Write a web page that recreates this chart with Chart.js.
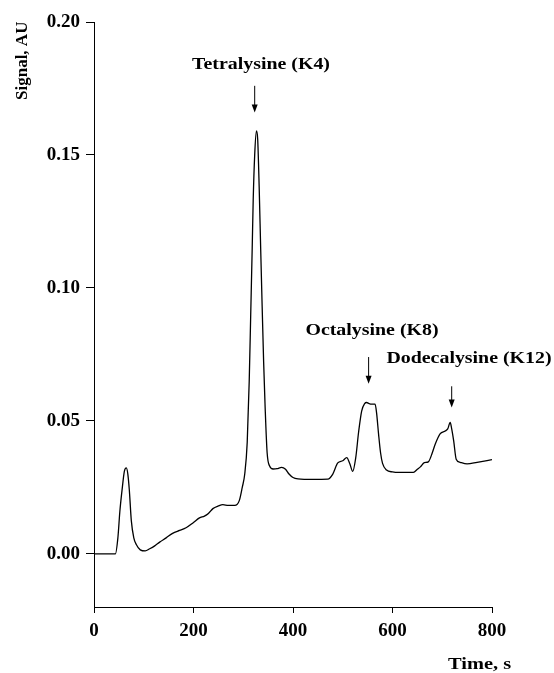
<!DOCTYPE html>
<html>
<head>
<meta charset="utf-8">
<script src="https://cdn.jsdelivr.net/npm/chart.js@4/dist/chart.umd.min.js"></script>
<style>
  html, body { margin: 0; padding: 0; background: #fff; }
  canvas { display: block; }
</style>
</head>
<body>
<canvas id="chart" width="554" height="673"></canvas>
<script>
// Electropherogram trace (time in s, signal in AU)
const times = [0, 43, 48, 52, 57, 61, 65, 68, 71, 75, 80, 85, 93, 103, 112, 122, 132, 145, 158, 172, 185, 200, 212, 222, 230, 239, 250, 259, 270, 283, 292, 298, 303, 308, 312, 315, 318, 320, 323, 326.5, 329, 332, 335, 338, 341, 344, 348, 353, 360, 368, 377, 385, 392, 400, 410, 440, 470, 480, 490, 500, 508, 514, 520, 526, 532, 538, 544, 548, 553, 558, 565, 568, 572, 576, 580, 588, 600, 612, 642, 650, 656, 664, 672, 680, 686, 696, 706, 711, 716, 719, 723, 728, 736, 750, 770, 800];
const signal = [0, 0, 0.006, 0.016, 0.025, 0.031, 0.0323, 0.030, 0.024, 0.0125, 0.006, 0.0035, 0.0015, 0.0011, 0.0019, 0.003, 0.0044, 0.006, 0.0077, 0.0088, 0.0098, 0.0118, 0.0135, 0.0142, 0.0152, 0.0170, 0.0180, 0.0185, 0.0182, 0.0182, 0.020, 0.025, 0.030, 0.042, 0.065, 0.090, 0.115, 0.133, 0.150, 0.159, 0.156, 0.138, 0.115, 0.093, 0.072, 0.055, 0.038, 0.033, 0.0319, 0.032, 0.0325, 0.0318, 0.0300, 0.0287, 0.0282, 0.0280, 0.0281, 0.0300, 0.0342, 0.0350, 0.0362, 0.034, 0.031, 0.036, 0.046, 0.0537, 0.0565, 0.0569, 0.0565, 0.0563, 0.0563, 0.053, 0.045, 0.038, 0.034, 0.0315, 0.0308, 0.0306, 0.0306, 0.0318, 0.0327, 0.0343, 0.0346, 0.038, 0.0413, 0.0452, 0.0462, 0.047, 0.0494, 0.047, 0.0425, 0.0356, 0.0344, 0.0338, 0.0344, 0.0354];

const xTicks = [0, 200, 400, 600, 800];
const yTicks = [0.00, 0.05, 0.10, 0.15, 0.20];

// peak labels: text, x (s) where the arrow points, arrow top/bottom (AU)
const peakNames = ['Tetralysine (K4)', 'Octalysine (K8)', 'Dodecalysine (K12)'];
const peakTimes = [323, 552, 719];
const arrowTops = [0.176, 0.074, 0.063];
const arrowTips = [0.166, 0.064, 0.055];

const FONT = "'Liberation Serif', 'DejaVu Serif', serif";

// the scanned figure's type is a bit wider than Liberation Serif
function wideText(ctx, text, x, y, align, stretch) {
    ctx.save();
    ctx.translate(x, y);
    ctx.scale(stretch, 1);
    ctx.textAlign = align;
    ctx.fillText(text, 0, 0);
    ctx.restore();
}

const textPlugin = {
    id: 'textPlugin',
    afterDraw(chart) {
        const ctx = chart.ctx;
        const xs = chart.scales.x;
        const ys = chart.scales.y;
        ctx.save();
        ctx.fillStyle = '#000';
        ctx.strokeStyle = '#000';
        ctx.font = 'bold 17px ' + FONT;
        ctx.textBaseline = 'alphabetic';

        // peak annotations
        const textPos = [[261, 69], [372, 335], [469, 363]];
        peakNames.forEach((name, i) => {
            wideText(ctx, name, textPos[i][0], textPos[i][1], 'center', 1.17);

            const px = xs.getPixelForValue(peakTimes[i]);
            const y1 = ys.getPixelForValue(arrowTops[i]);
            const y2 = ys.getPixelForValue(arrowTips[i]);
            ctx.lineWidth = 1;
            ctx.beginPath();
            ctx.moveTo(px, y1);
            ctx.lineTo(px, y2 - 6);
            ctx.stroke();
            ctx.beginPath();
            ctx.moveTo(px - 3, y2 - 8);
            ctx.lineTo(px + 3, y2 - 8);
            ctx.lineTo(px, y2);
            ctx.closePath();
            ctx.fill();
        });

        // axis titles
        wideText(ctx, 'Time, s', 448, 669, 'left', 1.2);

        ctx.translate(27, 100);
        ctx.rotate(-Math.PI / 2);
        ctx.textAlign = 'left';
        ctx.fillText('Signal, AU', 0, 0);
        ctx.restore();
    }
};

const tickFont = { family: FONT, size: 19, weight: 'bold' };

new Chart(document.getElementById('chart').getContext('2d'), {
    type: 'line',
    data: {
        datasets: [{
            data: times.map((t, i) => ({ x: t, y: signal[i] })),
            borderColor: '#000',
            borderWidth: 1.3,
            pointRadius: 0,
            cubicInterpolationMode: 'monotone',
            fill: false
        }]
    },
    options: {
        responsive: false,
        animation: false,
        layout: { padding: { top: 22, right: 62, left: 0, bottom: 0 } },
        plugins: {
            legend: { display: false },
            tooltip: { enabled: false }
        },
        scales: {
            x: {
                type: 'linear',
                min: 0,
                max: 800,
                afterBuildTicks: (s) => { s.ticks = xTicks.map(v => ({ value: v })); },
                afterFit: (s) => { s.height = 66; },
                ticks: { color: '#000', font: tickFont, padding: 7, maxRotation: 0 },
                grid: { drawOnChartArea: false, drawTicks: true, tickLength: 6, color: '#000' },
                border: { color: '#000', width: 1 }
            },
            y: {
                type: 'linear',
                min: -0.02,
                max: 0.20,
                afterBuildTicks: (s) => { s.ticks = yTicks.map(v => ({ value: v })); },
                afterFit: (s) => { s.width = 94; },
                ticks: { color: '#000', font: tickFont, padding: 6, callback: (v) => v.toFixed(2) },
                grid: { drawOnChartArea: false, drawTicks: true, tickLength: 8, color: '#000' },
                border: { color: '#000', width: 1 }
            }
        }
    },
    plugins: [textPlugin]
});
</script>
</body>
</html>
